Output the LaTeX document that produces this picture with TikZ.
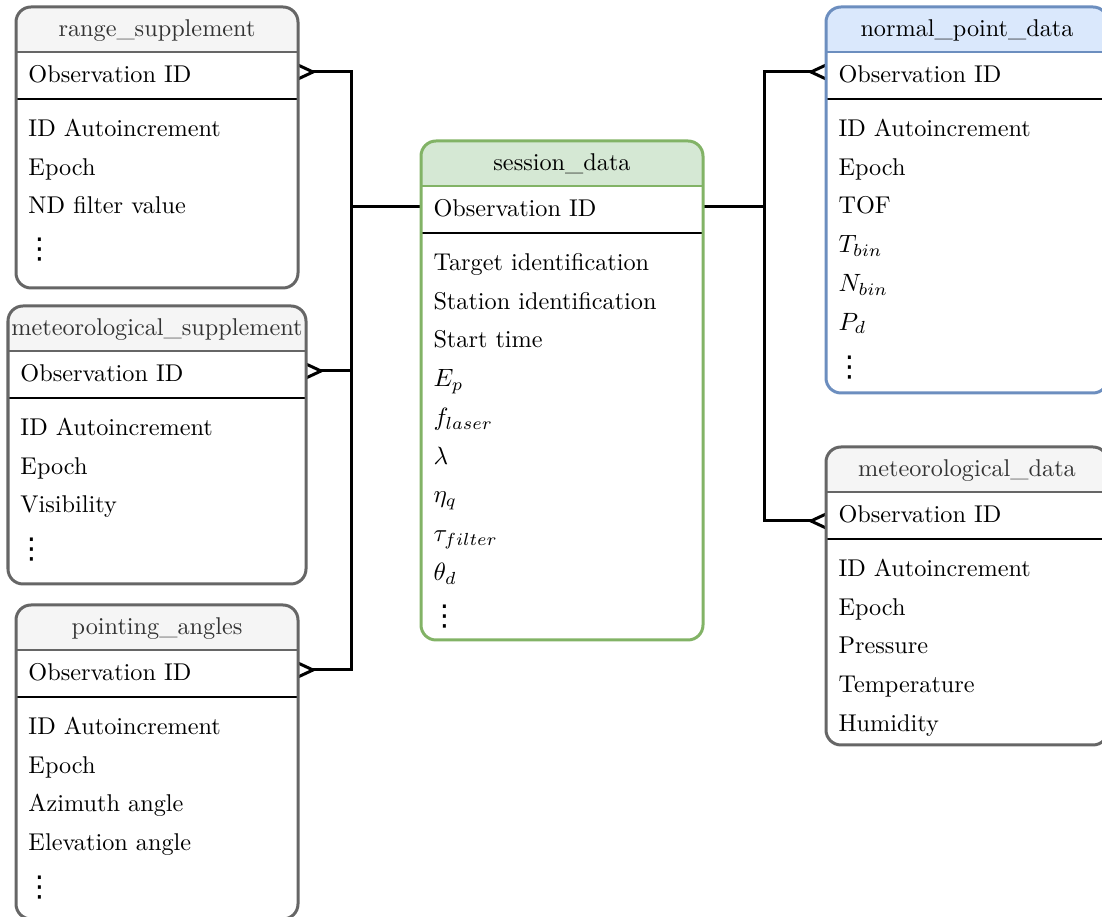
\documentclass[tikz,border=0pt]{standalone}
\usepackage{fontspec}
\newfontfamily\dotsfont{DejaVu Sans}
\usetikzlibrary{calc}
\definecolor{gline}{HTML}{666666}
\definecolor{gfill}{HTML}{F5F5F5}
\definecolor{gtext}{HTML}{333333}
\definecolor{eline}{HTML}{82B366}
\definecolor{efill}{HTML}{D5E8D4}
\definecolor{etext}{HTML}{000000}
\definecolor{bline}{HTML}{6C8EBF}
\definecolor{bfill}{HTML}{DAE8FC}
\definecolor{btext}{HTML}{000000}
\tikzset{
  frame/.style={line width=1.2pt, rounded corners=6pt},
  conn/.style={line width=1.2pt, line join=miter},
  crow/.style={line width=1.2pt, line join=miter},
  fld/.style={anchor=base west, inner sep=0pt, font=\fontsize{9.7}{12}\selectfont},
  vdot/.style={anchor=west, inner sep=0pt, font=\dotsfont\fontsize{11.5}{13}\selectfont},
  hdr/.style={anchor=base, inner sep=0pt, font=\fontsize{9.7}{12}\selectfont},
}
% #1 name, #2 x1, #3 x2, #4 top, #5 bottom, #6 colour prefix, #7 title
\newcommand\ertable[7]{%
  \begin{scope}
    \clip[rounded corners=6pt] (#2,#4) rectangle (#3,#5);
    \fill[#6fill] (#2,#4) rectangle (#3,#4+45);
  \end{scope}
  \draw[line width=0.9pt, draw=#6line] (#2,#4+45) -- (#3,#4+45);
  \draw[line width=0.45pt] (#2,#4+92) -- (#3,#4+92);
  \draw[frame, draw=#6line] (#2,#4) rectangle (#3,#5);
  \node[hdr, text=#6text] (#1-title) at ({(#2+#3)/2},#4+30) {#7};
}
\begin{document}
\begin{tikzpicture}[x=0.4pt, y=-0.4pt]
\useasboundingbox (0,0) rectangle (1102,917);
\clip (0,0) rectangle (1102,917);

% ---------- ports and junctions ----------
\coordinate (rs-port) at (298,72);   \coordinate (rs-tip) at (313,72);
\coordinate (ms-port) at (306,371);  \coordinate (ms-tip) at (321,371);
\coordinate (pa-port) at (298,670);  \coordinate (pa-tip) at (313,670);
\coordinate (sd-wport) at (421,207); \coordinate (sd-eport) at (703,207);
\coordinate (np-port) at (826,72);   \coordinate (np-tip) at (811,72);
\coordinate (md-port) at (826,521);  \coordinate (md-tip) at (811,521);
\coordinate (jl1) at (351,72);  \coordinate (jl2) at (351,207);
\coordinate (jl3) at (351,371); \coordinate (jl4) at (351,670);
\coordinate (jr1) at (764,72);  \coordinate (jr2) at (764,207);
\coordinate (jr3) at (764,521);

% ---------- connectors ----------
\draw[conn] (rs-tip) -- (jl1) -- (jl4) -- (pa-tip);
\draw[conn] (ms-tip) -- (jl3);
\draw[conn] (sd-wport) -- (jl2);
\draw[conn] (np-tip) -- (jr1) -- (jr3) -- (md-tip);
\draw[conn] (sd-eport) -- (jr2);
\draw[crow] ($(rs-port)+(0,-7)$) -- (rs-tip) -- ($(rs-port)+(0,7)$);
\draw[crow] ($(ms-port)+(0,-7)$) -- (ms-tip) -- ($(ms-port)+(0,7)$);
\draw[crow] ($(pa-port)+(0,-7)$) -- (pa-tip) -- ($(pa-port)+(0,7)$);
\draw[crow] ($(np-port)+(0,-7)$) -- (np-tip) -- ($(np-port)+(0,7)$);
\draw[crow] ($(md-port)+(0,-7)$) -- (md-tip) -- ($(md-port)+(0,7)$);

% ---------- range_supplement ----------
\ertable{rs}{16}{298}{7}{288}{g}{range\_supplement}
\node[fld] (rs-id) at (28,83) {Observation ID};
\node[fld] (rs-f0) at (28,136.5) {ID Autoincrement};
\node[fld] (rs-f1) at (28,175.25) {Epoch};
\node[fld] (rs-f2) at (28,214) {ND filter value};
\node[vdot] (rs-f3) at (25,250) {⋮};

% ---------- meteorological_supplement ----------
\ertable{ms}{8}{306}{306}{584}{g}{meteorological\_supplement}
\node[fld] (ms-id) at (20,382) {Observation ID};
\node[fld] (ms-f0) at (20,435.5) {ID Autoincrement};
\node[fld] (ms-f1) at (20,474.25) {Epoch};
\node[fld] (ms-f2) at (20,513) {Visibility};
\node[vdot] (ms-f3) at (17,550) {⋮};

% ---------- pointing_angles ----------
\ertable{pa}{16}{298}{605}{919}{g}{pointing\_angles}
\node[fld] (pa-id) at (28,681) {Observation ID};
\node[fld] (pa-f0) at (28,734.5) {ID Autoincrement};
\node[fld] (pa-f1) at (28,773.25) {Epoch};
\node[fld] (pa-f2) at (28,812) {Azimuth angle};
\node[fld] (pa-f3) at (28,850.75) {Elevation angle};
\node[vdot] (pa-f4) at (25,888) {⋮};

% ---------- session_data ----------
\ertable{sd}{421}{703}{141}{640}{e}{session\_data}
\node[fld] (sd-id) at (433,217) {Observation ID};
\node[fld] (sd-f0) at (433,270.5) {Target identification};
\node[fld] (sd-f1) at (433,309.25) {Station identification};
\node[fld] (sd-f2) at (433,348) {Start time};
\node[fld] (sd-f3) at (433,386.75) {$E_p$};
\node[fld] (sd-f4) at (433,425.5) {$f_{laser}$};
\node[fld] (sd-f5) at (433,464.25) {$\lambda$};
\node[fld] (sd-f6) at (433,503) {$\eta_q$};
\node[fld] (sd-f7) at (433,541.75) {$\tau_{filter}$};
\node[fld] (sd-f8) at (433,580.5) {$\theta_d$};
\node[vdot] (sd-f9) at (430,617) {⋮};

% ---------- normal_point_data ----------
\ertable{np}{826}{1108}{7}{393}{b}{normal\_point\_data}
\node[fld] (np-id) at (838,83) {Observation ID};
\node[fld] (np-f0) at (838,136.5) {ID Autoincrement};
\node[fld] (np-f1) at (838,175.25) {Epoch};
\node[fld] (np-f2) at (838,214) {TOF};
\node[fld] (np-f3) at (838,252.75) {$T_{bin}$};
\node[fld] (np-f4) at (838,291.5) {$N_{bin}$};
\node[fld] (np-f5) at (838,330.25) {$P_d$};
\node[vdot] (np-f6) at (835,368) {⋮};

% ---------- meteorological_data ----------
\ertable{md}{826}{1108}{447}{745}{g}{meteorological\_data}
\node[fld] (md-id) at (838,523) {Observation ID};
\node[fld] (md-f0) at (838,576.5) {ID Autoincrement};
\node[fld] (md-f1) at (838,615.25) {Epoch};
\node[fld] (md-f2) at (838,654) {Pressure};
\node[fld] (md-f3) at (838,692.75) {Temperature};
\node[fld] (md-f4) at (838,731.5) {Humidity};
\end{tikzpicture}
\end{document}
